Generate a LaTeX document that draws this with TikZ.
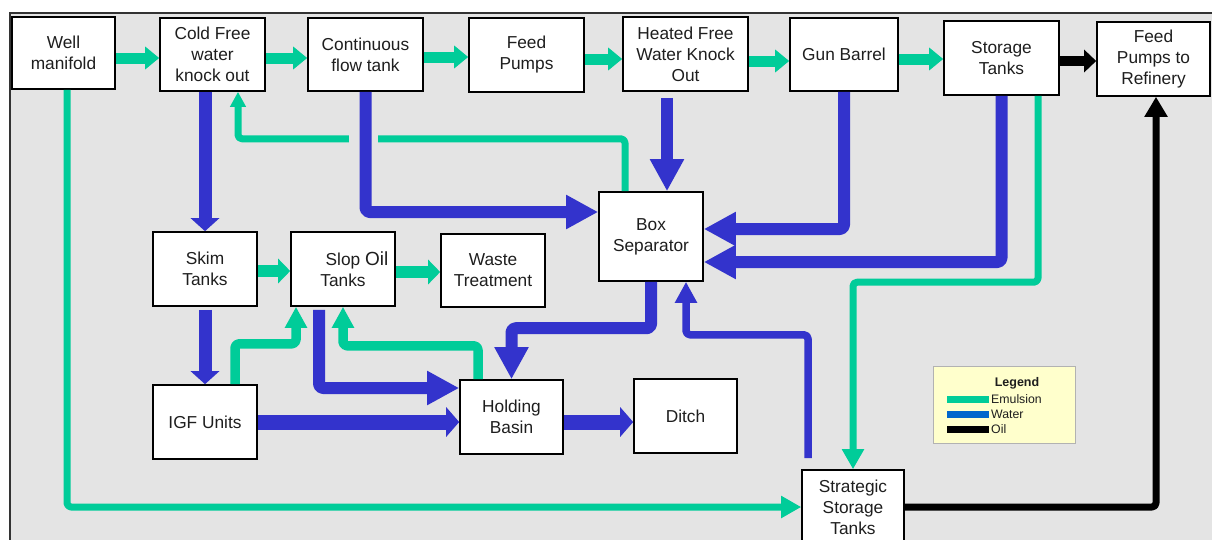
\documentclass[tikz,border=0pt]{standalone}
\usepackage{fontspec}
\setmainfont{Liberation Sans}
\usetikzlibrary{arrows.meta}
\definecolor{em}{RGB}{0,204,153}
\definecolor{wa}{RGB}{51,51,204}
\definecolor{bgc}{RGB}{228,228,228}
\definecolor{lgc}{RGB}{255,255,204}
\definecolor{lwater}{RGB}{0,102,204}
\definecolor{txt}{RGB}{30,30,30}
\tikzset{
  box/.style={draw=black, fill=white, line width=1.6pt, align=center,
    font=\fontsize{17.3}{21}\selectfont, text=txt, inner sep=0pt},
  conn/.style={rounded corners=4pt, line join=round},
  gtop/.style={conn, draw=em, line width=11pt, -{Triangle[length=14pt,width=22pt]}},
  gthin/.style={conn, draw=em, line width=7pt, -{Triangle[length=20pt,width=21pt]}},
  gsmall/.style={conn, draw=em, line width=7pt, -{Triangle[length=15pt,width=15pt]}},
  gmed/.style={conn, draw=em, line width=9.5pt, -{Triangle[length=21pt,width=21pt]}},
  gblk/.style={conn, draw=em, line width=12pt, -{Triangle[length=12pt,width=24pt]}},
  bbig/.style={conn, draw=wa, line width=12pt, -{Triangle[length=32pt,width=32pt]}},
  bmid/.style={conn, draw=wa, line width=13pt, -{Triangle[length=13pt,width=28pt]}},
  bblk/.style={conn, draw=wa, line width=15pt, -{Triangle[length=13pt,width=29pt]}},
  bthin/.style={conn, draw=wa, line width=7.5pt, -{Triangle[length=21pt,width=21pt]}},
  ktop/.style={conn, draw=black, line width=10pt, -{Triangle[length=12pt,width=22pt]}},
  kthin/.style={conn, draw=black, line width=7pt, -{Triangle[length=20pt,width=22pt]}},
}
\begin{document}
\begin{tikzpicture}[x=1pt,y=-1pt]
\useasboundingbox (0,0) rectangle (1212,539);
\clip (0,0) rectangle (1212,539);
% frame
\path[fill=bgc, draw=black!80, line width=1.8pt] (10,13) rectangle (1240,580);

% boxes
\node[box, minimum width=103pt, minimum height=72pt] (well) at (63.5,53) {Well\\manifold};
\node[box, minimum width=105pt, minimum height=73pt] (cold) at (212.5,54.5) {Cold Free\\water\\knock out};
\node[box, minimum width=115pt, minimum height=73pt] (cont) at (365.5,54.5) {Continuous\\flow tank};
\node[box, minimum width=115pt, minimum height=74pt] (feed) at (526.5,55) {Feed\\Pumps};
\node[box, minimum width=125pt, minimum height=74pt] (heated) at (685.5,54) {Heated Free\\Water Knock\\Out};
\node[box, minimum width=108pt, minimum height=73pt] (gun) at (844,54.5) {Gun Barrel};
\node[box, minimum width=115pt, minimum height=74pt] (storage) at (1001.5,58) {Storage\\Tanks};
\node[box, minimum width=113pt, minimum height=74pt] (feedref) at (1153.5,59) {Feed\\Pumps to\\Refinery};
\node[box, minimum width=104pt, minimum height=89pt] (boxsep) at (651,236.5) {Box\\Separator};
\node[box, minimum width=104pt, minimum height=74pt] (skim) at (205,269) {Skim\\Tanks};
\node[box, minimum width=104pt, minimum height=74pt] (slop) at (343,269) {\hspace*{28pt}Slop {\fontsize{19}{21}\selectfont Oil}\\Tanks};
\node[box, minimum width=104pt, minimum height=73pt] (waste) at (493,270.5) {Waste\\Treatment};
\node[box, minimum width=104pt, minimum height=74pt] (igf) at (205,422) {IGF Units};
\node[box, minimum width=103pt, minimum height=74pt] (hold) at (511.5,417) {Holding\\Basin};
\node[box, minimum width=103pt, minimum height=74pt] (ditch) at (685.5,416) {Ditch};
\node[box, minimum width=102pt, minimum height=74pt] (strat) at (853,507) {Strategic\\Storage\\Tanks};

% top row
\draw[gtop] ([yshift=-5pt]well.east) -- ([yshift=-3.5pt]cold.west);
\draw[gtop] ([yshift=-3.5pt]cold.east) -- ([yshift=-3.5pt]cont.west);
\draw[gtop] ([yshift=-2.5pt]cont.east) -- ([yshift=-2pt]feed.west);
\draw[gtop] ([yshift=-4pt]feed.east) -- ([yshift=-5pt]heated.west);
\draw[gtop] ([yshift=-7pt]heated.east) -- ([yshift=-6.5pt]gun.west);
\draw[gtop] ([yshift=-4.5pt]gun.east) -- ([yshift=-1pt]storage.west);
\draw[ktop] ([yshift=-3pt]storage.east) -- ([yshift=-2pt]feedref.west);

% emulsion recycle from box separator to cold free water knock out
\draw[gsmall] ([xshift=-26pt]boxsep.north) |- ([xshift=25.5pt,yshift=-47pt]cold.south) -- ([xshift=25.5pt]cold.south);
\fill[bgc] ([xshift=-17pt,yshift=-41pt]cont.south) rectangle ([xshift=12pt,yshift=-53pt]cont.south);

% water to box separator
\draw[bbig] (cont.south) |- ([yshift=24.5pt]boxsep.west);
\draw[bbig] ([xshift=-18.5pt,yshift=-6pt]heated.south) -- ([xshift=16pt]boxsep.north);
\draw[bbig] (gun.south) |- ([yshift=7.5pt]boxsep.east);
\draw[bbig] (storage.south) |- ([yshift=-25.5pt]boxsep.east);

% storage to strategic
\draw[gthin] ([xshift=36.5pt]storage.south) |- ([yshift=187pt]strat.north) -- (strat.north);
% well to strategic
\draw[gthin] ([xshift=3.5pt]well.south) |- (strat.west);
% strategic to refinery
\draw[kthin] (strat.east) -| ([xshift=2.5pt]feedref.south);

% box separator to holding basin
\draw[bbig] (boxsep.south) |- ([yshift=51pt]hold.north) -- (hold.north);
% strategic to box separator
\draw[bthin] ([xshift=-45pt,yshift=11pt]strat.north) |- ([xshift=35pt,yshift=-53pt]boxsep.south) -- ([xshift=35pt]boxsep.south);

% skim / slop / waste
\draw[gblk] ([yshift=-2pt]skim.east) -- ([yshift=-2pt]slop.west);
\draw[gblk] ([yshift=-3pt]slop.east) -- ([yshift=-1.5pt]waste.west);
\draw[bmid] ([xshift=-7.5pt]cold.south) -- (skim.north);
\draw[bmid] ([yshift=-3pt]skim.south) -- (igf.north);

% igf / holding to slop
\draw[gmed] ([xshift=30pt]igf.north) |- ([xshift=-47pt,yshift=-37pt]slop.south) -- ([xshift=-47pt]slop.south);
\draw[gmed] ([xshift=-33.5pt]hold.north) |- ([yshift=-39pt]slop.south) -- (slop.south);

% slop to holding
\draw[bbig] ([xshift=-24pt,yshift=-3pt]slop.south) |- ([yshift=29pt]hold.west);
% igf to holding, holding to ditch
\draw[bblk] (igf.east) -- ([yshift=-5pt]hold.west);
\draw[bblk] ([yshift=-5pt]hold.east) -- ([yshift=-6pt]ditch.west);

% legend
\node[draw=black!30, fill=lgc, line width=0.8pt, minimum width=142pt, minimum height=77pt, inner sep=0pt] (legend) at (1004,404.5) {};
\node[font=\fontsize{12.5}{14}\selectfont\bfseries, text=txt] (legtitle) at (1017,383) {Legend};
\draw[em, line width=7pt] (947,399) -- (989,399);
\draw[lwater, line width=7pt] (947,414) -- (989,414);
\draw[black, line width=7pt] (947,429) -- (989,429);
\node[anchor=west, inner sep=0pt, font=\fontsize{12.3}{14}\selectfont, text=txt] (lem) at (991,399) {Emulsion};
\node[anchor=west, inner sep=0pt, font=\fontsize{12.3}{14}\selectfont, text=txt] (lwa) at (991,414) {Water};
\node[anchor=west, inner sep=0pt, font=\fontsize{12.3}{14}\selectfont, text=txt] (loil) at (991,429) {Oil};
\end{tikzpicture}
\end{document}
